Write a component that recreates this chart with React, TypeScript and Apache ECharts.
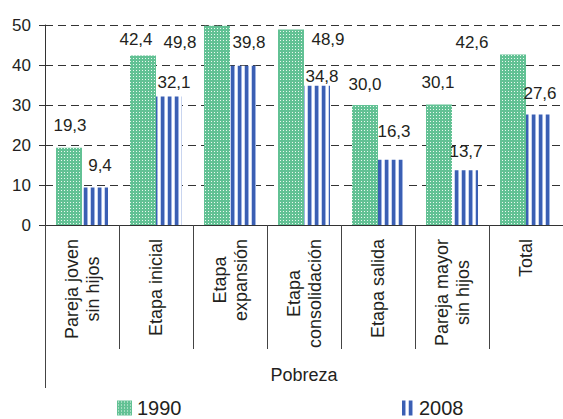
import React, { useEffect, useRef } from 'react';
import * as echarts from 'echarts';

// ---- data ----
const categories = [
  'Pareja joven\nsin hijos',
  'Etapa inicial',
  'Etapa\nexpansión',
  'Etapa\nconsolidación',
  'Etapa salida',
  'Pareja mayor\nsin hijos',
  'Total',
];
const groupCategories = ['Pobreza'];
const seriesNames = ['1990', '2008'];
const values1990 = [19.3, 42.4, 49.8, 48.9, 30.0, 30.1, 42.6];
const values2008 = [9.4, 32.1, 39.8, 34.8, 16.3, 13.7, 27.6];
const yMin = 0;
const yMax = 50;
const yInterval = 10;

// ---- styling (label nudges as in the reference) ----
const labelOffsets1990 = [[1, -9], [-7, -2], [-37, 30], [37, 24], [0, -7], [-1, -9], [-41, 1]];
const labelOffsets2008 = [[5, -8], [5, -1], [6, -10], [5, 4], [3, -15], [1, -5], [1, -8]];

const FONT = '"Liberation Sans", Arial, sans-serif';
const TEXT = '#231f20';

function makePattern(rows: string[][]): HTMLCanvasElement {
  const c = document.createElement('canvas');
  c.width = rows[0].length;
  c.height = rows.length;
  const ctx = c.getContext('2d')!;
  rows.forEach((row, y) =>
    row.forEach((col, x) => {
      ctx.fillStyle = col;
      ctx.fillRect(x, y, 1, 1);
    })
  );
  return c;
}

const fmt = (v: number) => v.toFixed(1).replace('.', ',');

export default function App() {
  const ref = useRef<HTMLDivElement>(null);
  useEffect(() => {
    if (!ref.current) return;
    const g = '#62c194';
    const w = '#eaf8f0';
    const greenCanvas = makePattern([
      [g, g, g],
      [g, w, g],
      [g, g, g],
    ]);
    const B = '#3b5fb3';
    const L = '#9fb4e2';
    const W = '#ffffff';
    const M = '#c9d5ef';
    const stripeRow = [B, B, B, L, W, W, M];
    const blueCanvas = makePattern([stripeRow, stripeRow]);

    const green = { image: greenCanvas, repeat: 'repeat' } as any;
    const blue = { image: blueCanvas, repeat: 'repeat' } as any;

    const chart = echarts.init(ref.current, null, { renderer: 'svg' });
    const labelBase = {
      show: true,
      position: 'top',
      distance: 5,
      fontSize: 17,
      color: TEXT,
      fontFamily: FONT,
      formatter: (p: any) => fmt(p.value),
    };
    const legendText = { fontSize: 20, lineHeight: 20, color: TEXT, fontFamily: FONT };
    chart.setOption({
      animation: false,
      textStyle: { fontFamily: FONT, color: TEXT },
      grid: { left: 45, right: -5, top: 25, bottom: 194, containLabel: false },
      legend: [
        {
          data: [seriesNames[0]],
          left: 117,
          top: 398,
          padding: 0,
          icon: 'rect',
          itemWidth: 15,
          itemHeight: 15,
          itemGap: 0,
          textStyle: legendText,
        },
        {
          data: [seriesNames[1]],
          left: 402,
          top: 398,
          padding: 0,
          icon: 'rect',
          itemWidth: 12,
          itemHeight: 15,
          itemGap: 0,
          textStyle: legendText,
        },
      ],
      xAxis: [
        {
          type: 'category',
          data: categories,
          position: 'bottom',
          axisLine: { show: true, lineStyle: { color: '#333', width: 1 } },
          axisTick: { show: true, length: 124, interval: 0, lineStyle: { color: '#444', width: 1 } },
          axisLabel: {
            interval: 0,
            rotate: 90,
            margin: 14,
            fontSize: 18,
            lineHeight: 21,
            color: TEXT,
            fontFamily: FONT,
            formatter: (v: string) => v.split('\n').map((s) => `{c|${s}}`).join('\n'),
            rich: { c: { fontSize: 18, lineHeight: 21, align: 'center', color: TEXT, fontFamily: FONT } },
          },
        },
        {
          type: 'category',
          data: groupCategories,
          position: 'bottom',
          offset: 124,
          axisLine: { show: false },
          axisTick: { show: true, length: 39, lineStyle: { color: '#444', width: 1 } },
          axisLabel: { margin: 17, fontSize: 18, color: TEXT, fontFamily: FONT },
        },
      ],
      yAxis: {
        type: 'value',
        min: yMin,
        max: yMax,
        interval: yInterval,
        axisLine: { show: true, lineStyle: { color: '#333', width: 1 } },
        axisTick: { show: true, length: 6, lineStyle: { color: '#333' } },
        axisLabel: { margin: 14, fontSize: 17, color: TEXT, fontFamily: FONT },
        splitLine: { show: true, lineStyle: { color: '#333', type: [8, 5], width: 1 } },
      },
      series: [
        {
          name: seriesNames[0],
          type: 'bar',
          xAxisIndex: 0,
          barWidth: 26,
          barGap: '0%',
          itemStyle: { color: green },
          label: labelBase,
          data: values1990.map((v, i) => ({ value: v, label: { offset: labelOffsets1990[i] } })),
        },
        {
          name: seriesNames[1],
          type: 'bar',
          xAxisIndex: 0,
          barWidth: 26,
          barGap: '0%',
          itemStyle: { color: blue },
          label: labelBase,
          data: values2008.map((v, i) => ({ value: v, label: { offset: labelOffsets2008[i] } })),
        },
      ],
    });
    return () => chart.dispose();
  }, []);
  return (
    <div
      ref={ref}
      style={{ position: 'fixed', left: 0, top: 0, width: 563, height: 419, background: '#fff' }}
    />
  );
}
